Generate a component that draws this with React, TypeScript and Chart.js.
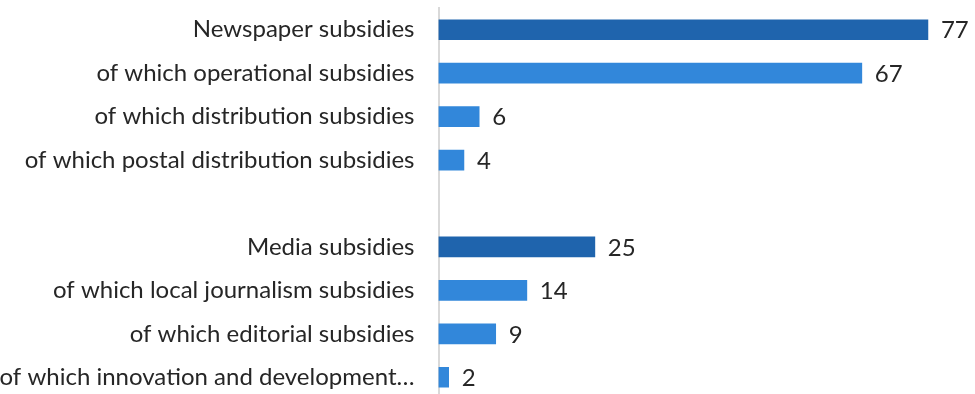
import React, { useEffect, useRef } from "react";
import { Chart, registerables } from "chart.js";

Chart.register(...registerables);

const categories: string[] = [
  "Newspaper subsidies",
  "of which operational subsidies",
  "of which distribution subsidies",
  "of which postal distribution subsidies",
  "",
  "Media subsidies",
  "of which local journalism subsidies",
  "of which editorial subsidies",
  "of which innovation and development…",
];

// bar lengths; labels show them rounded
const values: (number | null)[] = [77, 66.6, 6.4, 4.0, null, 24.6, 13.9, 9.0, 1.6];

const isTotal: boolean[] = [true, false, false, false, false, true, false, false, false];

const DARK = "#1F64AD";
const LIGHT = "#3287DA";
const TEXT = "#262626";
const FONT = "Lato, 'Noto Sans', sans-serif";
const FONT_SIZE = 24;

const valueLabels = {
  id: "valueLabels",
  afterDatasetsDraw(chart: any) {
    const ctx = chart.ctx;
    const meta = chart.getDatasetMeta(0);
    ctx.save();
    ctx.font = `${FONT_SIZE}px ${FONT}`;
    ctx.fillStyle = TEXT;
    ctx.textAlign = "left";
    ctx.textBaseline = "middle";
    meta.data.forEach((el: any, i: number) => {
      const v = values[i];
      if (v === null || v === undefined) return;
      ctx.fillText(String(Math.round(v)), el.x + 13, el.y + 1);
    });
    ctx.restore();
  },
};

export default function App() {
  const ref = useRef<HTMLCanvasElement | null>(null);
  useEffect(() => {
    document.body.style.margin = "0";
    document.body.style.overflow = "hidden";
    if (!ref.current) return;
    const chart = new Chart(ref.current, {
      type: "bar",
      data: {
        labels: categories,
        datasets: [
          {
            data: values,
            backgroundColor: isTotal.map((t) => (t ? DARK : LIGHT)),
            barThickness: 20,
          },
        ],
      },
      options: {
        indexAxis: "y",
        animation: false,
        responsive: false,
        layout: { padding: { top: 8, bottom: 1, right: 28, left: 0 } },
        plugins: { legend: { display: false }, tooltip: { enabled: false } },
        scales: {
          x: { display: false, min: 0, max: 80 },
          y: {
            afterFit(scale: any) {
              scale.width = 438.5;
              scale.paddingTop = 0;
              scale.paddingBottom = 0;
            },
            grid: { display: false, drawTicks: false },
            border: { display: true, color: "#D9D9D9", width: 2 },
            ticks: {
              color: TEXT,
              font: { family: FONT, size: FONT_SIZE },
              padding: 24,
              autoSkip: false,
            },
          },
        },
      },
      plugins: [valueLabels],
    });
    return () => chart.destroy();
  }, []);
  return (
    <div style={{ width: 975, height: 394, overflow: "hidden", background: "#fff" }}>
      <canvas ref={ref} width={975} height={400} style={{ display: "block" }} />
    </div>
  );
}
